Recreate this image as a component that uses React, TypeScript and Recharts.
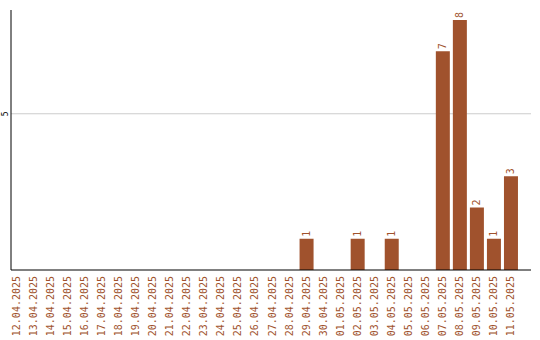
import { BarChart, Bar, XAxis, YAxis, CartesianGrid, LabelList } from 'recharts';

const DATES = [
  '12.04.2025', '13.04.2025', '14.04.2025', '15.04.2025', '16.04.2025',
  '17.04.2025', '18.04.2025', '19.04.2025', '20.04.2025', '21.04.2025',
  '22.04.2025', '23.04.2025', '24.04.2025', '25.04.2025', '26.04.2025',
  '27.04.2025', '28.04.2025', '29.04.2025', '30.04.2025', '01.05.2025',
  '02.05.2025', '03.05.2025', '04.05.2025', '05.05.2025', '06.05.2025',
  '07.05.2025', '08.05.2025', '09.05.2025', '10.05.2025', '11.05.2025',
];

const COUNTS = [
  0, 0, 0, 0, 0, 0, 0, 0, 0, 0,
  0, 0, 0, 0, 0, 0, 0, 1, 0, 0,
  1, 0, 1, 0, 0, 7, 8, 2, 1, 3,
];

const Y_TICKS = [5];

const BROWN = '#a0522d';
const FONT = '"DejaVu Sans Mono", monospace';

const data = DATES.map((date, i) => ({ date, count: COUNTS[i] }));

function DateTick({ x, y, payload }: any) {
  return (
    <text
      x={x}
      y={y}
      transform={`rotate(-90, ${x}, ${y})`}
      textAnchor="end"
      dy="0.35em"
      fontSize={10}
      fontFamily={FONT}
      fill={BROWN}
    >
      {payload.value}
    </text>
  );
}

function CountTick({ x, y, payload }: any) {
  const tx = x - 6;
  return (
    <text
      x={tx}
      y={y}
      transform={`rotate(-90, ${tx}, ${y})`}
      textAnchor="middle"
      dy="0.35em"
      fontSize={8}
      fontFamily={FONT}
      fill="#000"
    >
      {payload.value}
    </text>
  );
}

function ValueLabel({ x, y, width, value }: any) {
  if (!value) return null;
  const cx = x + width / 2;
  const ty = y - 2;
  return (
    <text
      x={cx}
      y={ty}
      transform={`rotate(-90, ${cx}, ${ty})`}
      textAnchor="start"
      dy="0.35em"
      fontSize={10}
      fontFamily={FONT}
      fill={BROWN}
    >
      {value}
    </text>
  );
}

export default function App() {
  return (
    <div style={{ position: 'absolute', left: 0, top: 0, background: '#fff' }}>
      <BarChart
        width={540}
        height={340}
        data={data}
        margin={{ top: 10, right: 9, bottom: 40, left: 0 }}
      >
        <CartesianGrid
          vertical={false}
          horizontalValues={Y_TICKS}
          stroke="#cccccc"
        />
        <XAxis
          dataKey="date"
          height={30}
          interval={0}
          tickLine={false}
          tickSize={0}
          tickMargin={6}
          stroke="#000"
          padding={{ left: -3, right: 12 }}
          tick={<DateTick />}
        />
        <YAxis
          width={11}
          domain={[0, 8.32]}
          ticks={Y_TICKS}
          tickLine={false}
          tickSize={0}
          tickMargin={0}
          stroke="#000"
          tick={<CountTick />}
        />
        <Bar dataKey="count" fill={BROWN} barSize={14} isAnimationActive={false}>
          <LabelList dataKey="count" content={<ValueLabel />} />
        </Bar>
      </BarChart>
    </div>
  );
}
